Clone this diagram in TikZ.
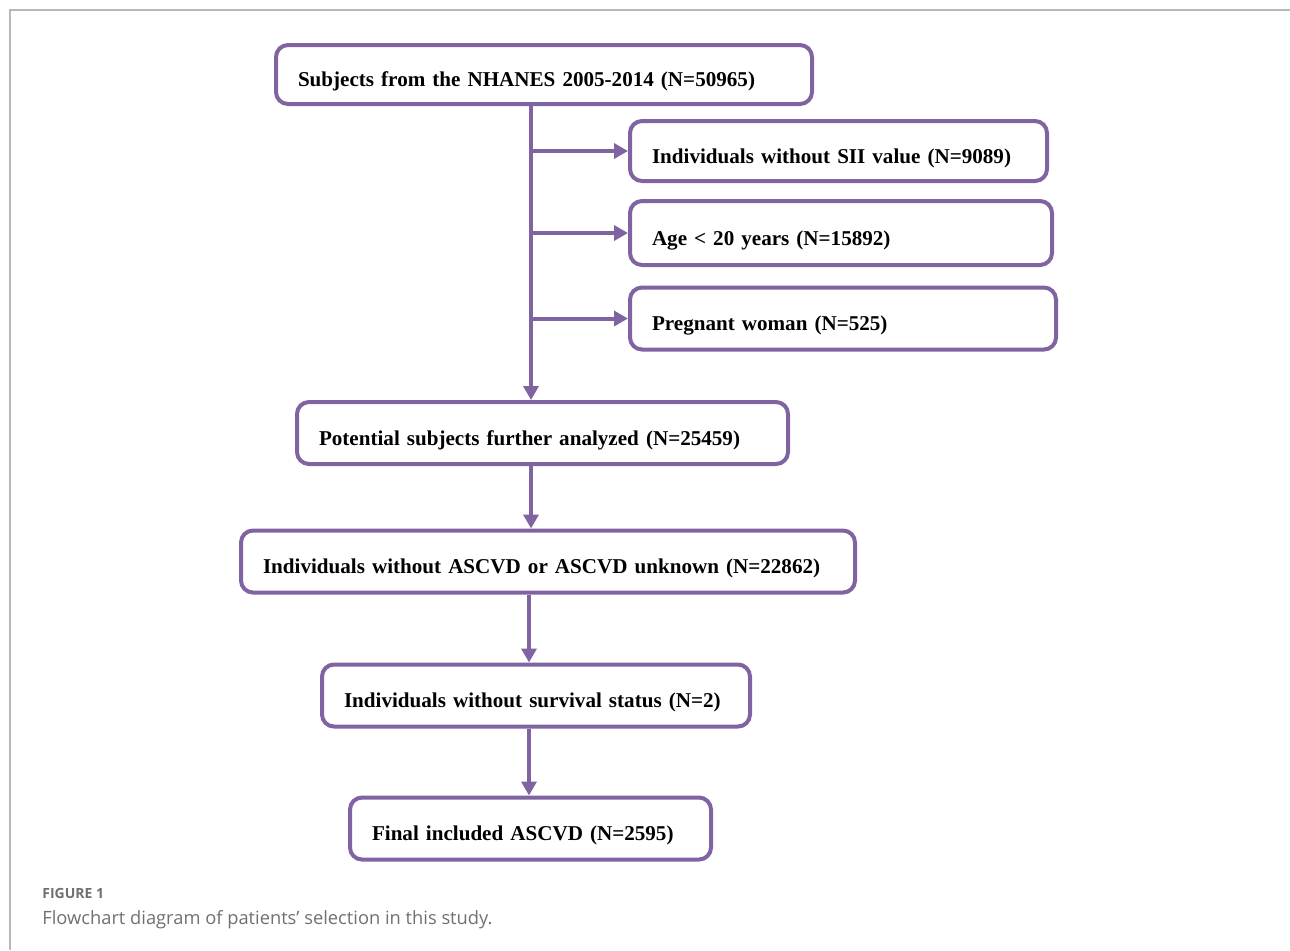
\documentclass[tikz,border=0pt]{standalone}
\usepackage{fontspec}
\setmainfont{Liberation Serif}
\newfontfamily\capfont{Open Sans}
\usetikzlibrary{
		arrows.meta,
		positioning
	}
\definecolor{flowpurple}{HTML}{8064A2}
\definecolor{capgray}{HTML}{707070}
\tikzset{
		>={Triangle[length=7pt,width=7.5pt]},
		flowbox/.style={draw=flowpurple, line width=2pt, rounded corners=6pt,
			align=left, inner xsep=11pt, minimum height=31pt,
			text height=12pt, text depth=0pt,
			font=\bfseries\fontsize{10.55}{12}\selectfont},
		flowline/.style={flowpurple, line width=2pt}
	}

\begin{document}
\begin{tikzpicture}[x=0.5pt,y=-0.5pt]
          \useasboundingbox (0,0) rectangle (1290,950);
          \draw[black!28, line width=0.7pt] (10,950) |- (1290,10);

          % boxes
          \node[flowbox, text width=246pt, minimum height=29.5pt] (subj) at (544,74.5)
               {Subjects from the NHANES 2005-2014 (N=50965)};
          \node[flowbox, text width=186.5pt, minimum height=30pt] (sii) at (838.5,151)
               {Individuals without SII value (N=9089)};
          \node[flowbox, text width=189pt, minimum height=32pt] (age) at (841,233)
               {Age < 20 years (N=15892)};
          \node[flowbox, text width=191pt] (preg) at (843,318.5)
               {Pregnant woman (N=525)};
          \node[flowbox, text width=223.5pt] (pot) at (542.5,433)
               {Potential subjects further analyzed (N=25459)};
          \node[flowbox, text width=285pt] (ascvd) at (548,561.5)
               {Individuals without ASCVD or ASCVD unknown (N=22862)};
          \node[flowbox, text width=192pt] (surv) at (536,695.5)
               {Individuals without survival status (N=2)};
          \node[flowbox, text width=158.5pt] (final) at (530.5,828.5)
               {Final included ASCVD (N=2595)};

          \coordinate (trunk) at (531,0);
          \coordinate (low) at (529,0);

          % connectors
          \draw[flowline,->] (subj.south -| trunk) -- (pot.north -| trunk);
          \foreach \n in {sii,age,preg}
               \draw[flowline,->] (\n.west -| trunk) -- (\n.west);
          \draw[flowline,->] (pot.south -| trunk) -- (ascvd.north -| trunk);
          \draw[flowline,->] (ascvd.south -| low) -- (surv.north -| low);
          \draw[flowline,->] (surv.south -| low) -- (final.north -| low);

          % caption
          \node[anchor=base west, inner sep=0pt, text=capgray,
               font=\capfont\bfseries\fontsize{7}{8}\selectfont] (fig) at (42,898) {FIGURE 1};
          \node[anchor=base west, inner sep=0pt, text=capgray,
               font=\capfont\fontsize{9.15}{11}\selectfont] (capt) at (42,924)
               {Flowchart diagram of patients’ selection in this study.};
          \end{tikzpicture}
\end{document}
